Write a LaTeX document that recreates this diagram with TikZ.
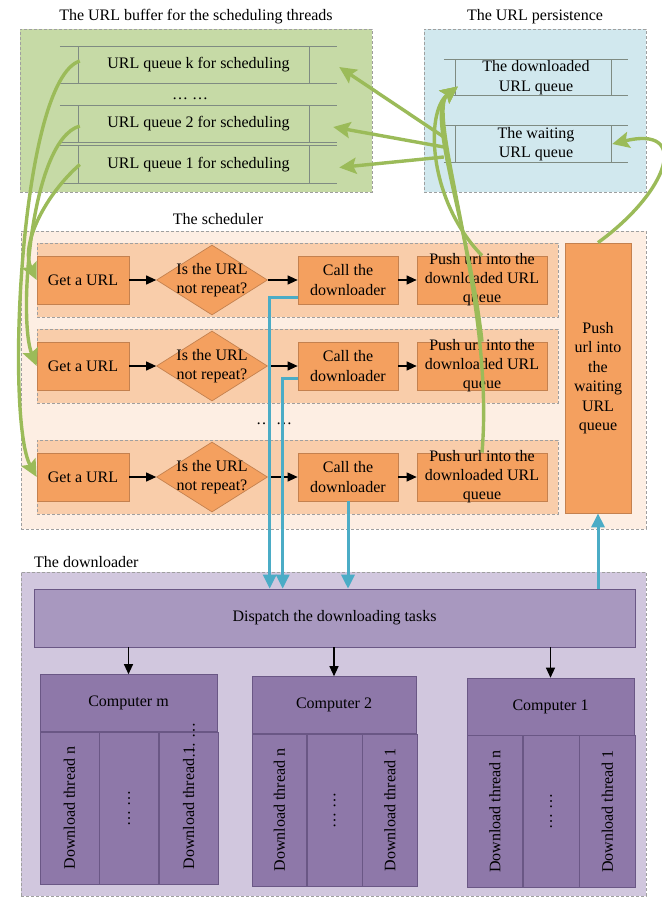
\documentclass[tikz,border=0pt]{standalone}
\usepackage{fontspec}
\setmainfont{Liberation Serif}
\usetikzlibrary{arrows.meta, positioning, shapes.geometric}

\definecolor{bufgreen}{HTML}{C6DAA6}
\definecolor{perblue}{HTML}{D1E8EE}
\definecolor{schedbg}{HTML}{FDEEE3}
\definecolor{rowbg}{HTML}{F9CDAA}
\definecolor{boxorange}{HTML}{F4A05F}
\definecolor{boxline}{HTML}{C4814F}
\definecolor{dlbg}{HTML}{D1C7DE}
\definecolor{dispurple}{HTML}{A898BF}
\definecolor{compurple}{HTML}{8E78A9}
\definecolor{purline}{HTML}{6A5785}
\definecolor{grnline}{HTML}{9BBB59}
\definecolor{bluline}{HTML}{4BACC6}
\definecolor{qgray}{HTML}{7F8B82}

\tikzset{
    grp/.style={draw=gray!75, dash pattern=on 3pt off 2pt, line width=0.8pt},
    rowbox/.style={grp, fill=rowbg, minimum width=521, minimum height=74},
    qline/.style={draw=qgray, line width=0.9pt},
    box/.style={draw=boxline, fill=boxorange, line width=0.7pt, minimum height=48, align=center, inner sep=1pt},
    dec/.style={diamond, draw=boxline, fill=boxorange, line width=0.7pt, inner sep=0pt, minimum width=111, minimum height=70},
    comp/.style={draw=purline, fill=compurple, line width=0.6pt, inner sep=0pt},
    col/.style={comp, minimum height=152},
    flow/.style={-{Triangle[length=10pt, width=9pt]}, line width=1.1pt},
    grn/.style={draw=grnline, line width=3.4pt, -{Stealth[length=17pt, width=16pt, inset=3pt]}},
    blu/.style={draw=bluline, line width=3pt, -{Triangle[length=14pt, width=13pt]}}
}

\begin{document}
\begin{tikzpicture}[x=1pt, y=-1pt, font=\fontsize{16}{19.5}\selectfont]
    \useasboundingbox (0,0) rectangle (661,899);

    % URL buffer
    \node[grp, fill=bufgreen, minimum width=352, minimum height=163] (buf) at (196,110.5) {};
    \node[above=1pt of buf] (buftitle) {The URL buffer for the scheduling threads};
    \node[minimum width=277, minimum height=36] (qk) at (198.5,65) {URL queue k for scheduling};
    \node (bufdots) at (190,99) {\dots\ \dots};
    \node[minimum width=277, minimum height=36] (q2) at (198.5,124) {URL queue 2 for scheduling};
    \node[minimum width=277, minimum height=37] (q1) at (198.5,164.5) {URL queue 1 for scheduling};
    \foreach \q in {qk,q2,q1} {
        \draw[qline] (\q.north west) -- (\q.north east) (\q.south west) -- (\q.south east);
        \draw[qline] ([xshift=19]\q.north west) -- ([xshift=19]\q.south west);
        \draw[qline] ([xshift=-28]\q.north east) -- ([xshift=-28]\q.south east);
    }

    % URL persistence
    \node[grp, fill=perblue, minimum width=222, minimum height=163] (pers) at (535,110.5) {};
    \node[above=1pt of pers] (perstitle) {The URL persistence};
    \node[minimum width=184, minimum height=35, align=center, inner sep=0pt] (dq) at (536,77.5) {The downloaded\\URL queue};
    \node[minimum width=184, minimum height=36, align=center, inner sep=0pt] (wq) at (536,144) {The waiting\\URL queue};
    \foreach \q in {dq,wq} {
        \draw[qline] (\q.north west) -- (\q.north east) (\q.south west) -- (\q.south east);
        \draw[qline] ([xshift=12]\q.north west) -- ([xshift=12]\q.south west);
        \draw[qline] ([xshift=-17]\q.north east) -- ([xshift=-17]\q.south east);
    }

    % scheduler
    \node[grp, fill=schedbg, minimum width=625, minimum height=298] (sched) at (333.5,380) {};
    \node (schedtitle) at (218,219) {The scheduler};
    \foreach \r/\y in {1/280, 2/366, 3/477} {
        \node[rowbox] (row\r) at (297.5,\y) {};
        \node[box, minimum width=92] (get\r) at (83,\y) {Get a URL};
        \node[dec] (dec\r) at (212,\y) {};
        \node[align=center, inner sep=0pt] (dect\r) at (dec\r) {Is the URL\\not repeat?};
        \node[box, minimum width=100] (call\r) at (348,\y) {Call the\\downloader};
        \node[box, minimum width=130, inner ysep=-4pt, font=\fontsize{16}{19}\selectfont] (push\r) at (482,\y) {Push url into the\\downloaded URL\\queue};
        \draw[flow] (get\r) -- (dec\r);
        \draw[flow] (dec\r) -- (call\r);
        \draw[flow] (call\r) -- (push\r);
    }
    \node (scheddots) at (274,424) {\dots\ \dots};
    \node[box, minimum width=66, minimum height=270] (tpush) at (598,378) {Push\\url into\\the\\waiting\\URL\\queue};

    % downloader
    \node[grp, fill=dlbg, minimum width=625, minimum height=324] (dl) at (333.5,734) {};
    \node[anchor=south west] (dltitle) at ([xshift=10]dl.north west) {The downloader};
    \node[comp, fill=dispurple, minimum width=601, minimum height=58] (disp) at (334.5,618) {Dispatch the downloading tasks};
    \foreach \c/\x/\y/\w/\lab in {cm/128.5/703/177/m, c2/334/705/164/2, c1/550.5/706.5/167/1} {
        \node[comp, minimum width=\w, minimum height=57] (\c) at (\x,\y) {Computer \lab};
        \node[col, minimum width=\w/3, anchor=north west] (\c-n) at (\c.south west) {\rotatebox{90}{Download thread n}};
        \node[col, minimum width=\w/3, anchor=north west] (\c-d) at (\c-n.north east) {\rotatebox{90}{\dots\ \dots}};
        \node[col, minimum width=\w/3, anchor=north west] (\c-1) at (\c-d.north east) {\rotatebox{90}{Download thread 1}};
        \draw[flow] (disp.south -| \c.north) -- (\c.north);
    }
    \node[rotate=90, inner sep=0pt] (cmdots) at (194,740) {\dots\ \dots};

    % blue arrows
    \draw[blu] ([yshift=-17]call1.west) -| ([xshift=236]disp.north west);
    \draw[blu] ([yshift=-12]call2.west) -| ([xshift=249]disp.north west);
    \draw[blu] (call3.south) -- (call3.south |- disp.north);
    \draw[blu] (disp.north -| tpush.south) -- (tpush.south);

    % green arrows
    \draw[grn] ([xshift=20]q1.west) .. controls (45,195) and (20,245) .. (get1.west);
    \draw[grn] ([xshift=20,yshift=-2]q2.west) .. controls (30,140) and (18,320) .. (get2.west);
    \draw[grn] ([xshift=20,yshift=4]qk.west) .. controls (20,80) and (5,420) .. (get3.west);
    \draw[grn] ([yshift=7]wq.west) -- ([xshift=2,yshift=-2]qk.east);
    \draw[grn] ([yshift=-3]wq.west) -- ([xshift=-4,yshift=-3]q2.east);
    \draw[grn] ([yshift=-13]wq.west) -- ([xshift=2,yshift=-3]q1.east);
    \coordinate (dqin) at ([xshift=14,yshift=-9]dq.west);
    \draw[grn] (push1.north) .. controls (428,200) and (425,112) .. (dqin);
    \draw[grn] (push2.north) .. controls (470,230) and (425,112) .. (dqin);
    \draw[grn] (push3.north) .. controls (495,300) and (425,112) .. (dqin);
    \draw[grn] (tpush.north) .. controls (670,190) and (690,125) .. ([xshift=-16]wq.east);
\end{tikzpicture}
\end{document}
